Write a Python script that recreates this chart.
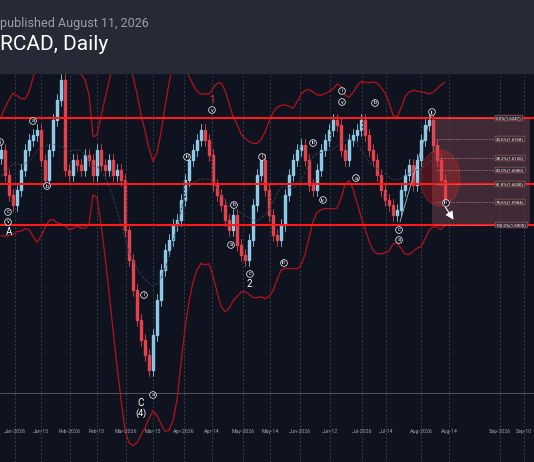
import numpy as np, pandas as pd, seaborn as sns, matplotlib
matplotlib.use("Agg")
import matplotlib.pyplot as plt
from matplotlib.patches import Rectangle, Ellipse

sns.set_theme(style="dark")
plt.rcParams['font.family'] = ['Roboto', 'DejaVu Sans']

# closes on a pixel-like price scale (smaller = higher), one candle per bar slot
closes = [150,175,195,205,190,170,150,140,135,130,
          160,180,150,120,100,80,170,175,160,165,
          170,155,160,175,150,165,170,160,175,170,
          180,230,260,290,320,340,355,370,335,300,
          270,250,240,225,220,200,180,160,150,140,
          130,140,155,185,195,205,220,230,215,245,
          255,260,240,205,175,160,190,215,235,240,
          225,195,175,160,150,145,160,185,190,170,
          150,140,130,120,125,150,160,140,135,130,
          120,135,150,160,175,190,200,205,215,210,
          190,175,165,185,160,140,125,120,145,160,
          180,200]
bars = np.arange(len(closes)) * 4 + 1
date_ticks = [15,41,70,97,126,153,184,212,243,270,300,330,362,386,421,449,500,524]
date_labels = ["Jan-2026","Jan-15","Feb-2026","Feb-15","Mar-2026","Mar-15","Apr-2026","Apr-14",
               "May-2026","May-14","Jun-2026","Jun-12","Jul-2026","Jul-14","Aug-2026","Aug-14","Sep-2026","Sep-10"]
fib_levels = [118,139,158,170,184,202,225]
fib_labels = ["0.0%(1.6247)","23.6%(1.6168)","38.2%(1.6120)","50.0%(1.6080)","61.8%(1.6040)","78.6%(1.5984)","100.0%(1.5905)"]

df = pd.DataFrame({"bar": bars, "close": closes})
df["open"] = df["close"].shift(1).fillna(df["close"] + 8)
df["hi"] = df[["open","close"]].min(axis=1) - 6
df["lo"] = df[["open","close"]].max(axis=1) + 6
mid = df["close"].rolling(14, min_periods=1, center=True).mean()
sd = df["close"].rolling(14, min_periods=1, center=True).std().fillna(15)

fig = plt.figure(figsize=(5.34, 4.62), dpi=100, facecolor="#0f1320")
fig.patches.append(Rectangle((0, 1-73/462), 1, 73/462, transform=fig.transFigure, color="#262a36"))
fig.text(0.0, 1-24/462, "published August 11, 2026", color="#9aa0ab", fontsize=9, va="center")
fig.text(0.0, 1-44/462, "RCAD, Daily", color="white", fontsize=15, va="center")
ax = fig.add_axes([0, 0, 1, 1-73/462])
ax.set_facecolor("#0f1320")
ax.set_xlim(0, 534); ax.set_ylim(462, 73)
for t in date_ticks:
    ax.axvline(t, color="#3a3f4c", ls=(0,(2,2)), lw=0.7)
ax.axhline(393, color="#5a5e68", lw=0.6)
for d, o, c, h, l in zip(df.bar, df.open, df.close, df.hi, df.lo):
    col = "#e4414b" if c > o else "#8ecae6"
    ax.plot([d, d], [h, l], color=col, lw=0.6)
    ax.add_patch(Rectangle((d-1.4, min(o, c)), 2.8, max(abs(c-o), 1), color=col))
sns.lineplot(x=df.bar, y=mid - 2.2*sd - 12, ax=ax, color="#b3121b", lw=0.9)
sns.lineplot(x=df.bar, y=mid + 2.2*sd + 12, ax=ax, color="#b3121b", lw=0.9)
sns.lineplot(x=df.bar, y=mid, ax=ax, color="#3c4150", lw=0.6, ls="--")
for y in [118, 184, 225]:
    ax.axhline(y, color="#ff1a1a", lw=1.5)
ax.add_patch(Rectangle((432, 118), 98, 107, color="#d0707a", alpha=0.25, lw=0))
for y, lab in zip(fib_levels, fib_labels):
    ax.plot([436, 494], [y, y], color="#c98a90", lw=0.5, ls=(0,(2,2)))
    ax.text(496, y, lab, color="white", fontsize=3.2, va="center",
            bbox=dict(boxstyle="round,pad=0.2", fc="#3a2a30", ec="#aa6670", lw=0.4))
ax.add_patch(Ellipse((440, 178), 40, 56, fc="#ff2020", alpha=0.25, ec="#ff3030", lw=1))
ax.annotate("", xy=(455, 222), xytext=(444, 205), arrowprops=dict(arrowstyle="-|>", color="white", lw=0.8))
ax.plot([400, 432], [222, 112], color="#b0b4c0", lw=0.6)
waves = [(0,142,"i"),(8,212,"c"),(8,222,"v"),(33,121,"a"),(47,186,"b"),(187,157,"iii"),(212,110,"v"),
         (234,205,"b"),(231,245,"a"),(250,274,"c"),(262,157,"i"),(284,263,"iii"),(323,200,"iv"),
         (313,143,"iii"),(342,102,"v"),(342,91,"i"),(356,178,"a"),(375,103,"b"),
         (399,230,"c"),(399,240,"a"),(432,112,"ii"),(446,203,"iii"),(144,295,"i"),(153,395,"a")]
for x, y, s in waves:
    ax.text(x, y, s, color="white", fontsize=4, ha="center", va="center",
            bbox=dict(boxstyle="circle,pad=0.15", fc="#0f1320", ec="white", lw=0.5))
ax.text(212, 103, "1", color="#ff3030", fontsize=7, ha="center")
ax.text(249, 287, "2", color="white", fontsize=7, ha="center")
ax.text(141, 406, "C", color="white", fontsize=7, ha="center")
ax.text(141, 416, "(4)", color="white", fontsize=6.5, ha="center")
ax.text(9, 235, "A", color="white", fontsize=7, ha="center")
for t, lab in zip(date_ticks, date_labels):
    ax.text(t, 432, lab, color="#9aa0ab", fontsize=3.8, ha="center", va="center")
ax.set_xticks([]); ax.set_yticks([]); ax.set_xlabel(""); ax.set_ylabel("")
for s in ax.spines.values(): s.set_visible(False)
fig.savefig("out.png", dpi=100, facecolor=fig.get_facecolor())
